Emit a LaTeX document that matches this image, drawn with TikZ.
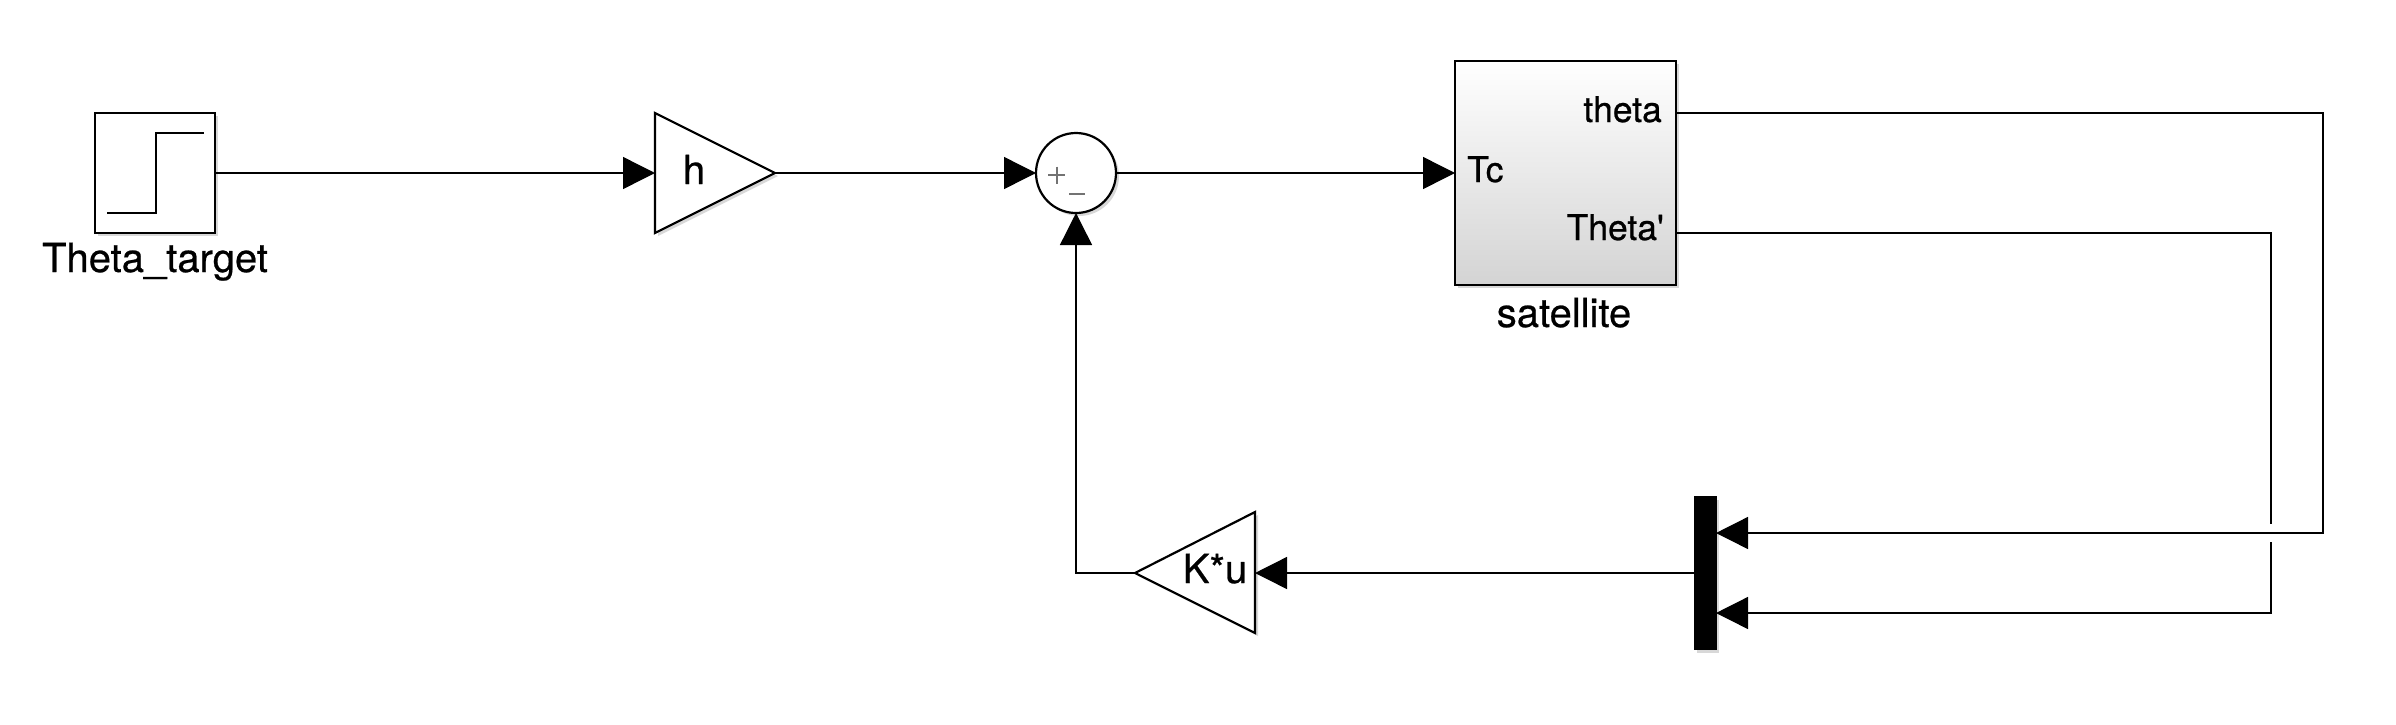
\documentclass[tikz,border=0pt]{standalone}
\usepackage{fontspec}
\setmainfont{TeX Gyre Heros}[FakeBold=0.6]
\usetikzlibrary{arrows.meta,shadows}
\begin{document}
\begin{tikzpicture}[x=1pt,y=-1pt,
  wire/.style={line width=1.4pt, draw=black},
  sig/.style={wire, -{Triangle[length=32pt,width=32pt]}},
  shd/.style={drop shadow={shadow xshift=3pt, shadow yshift=-3pt, opacity=0.3}},
  blk/.style={draw=black, line width=2.2pt, fill=white, inner sep=0pt, outer sep=0pt, shd},
  lbl/.style={font=\fontsize{40}{46}\selectfont, inner sep=0pt},
  port/.style={font=\fontsize{35.5}{41}\selectfont, inner sep=0pt},
  sgn/.style={draw=black!55, line width=2pt},
]
\useasboundingbox[fill=white] (0,0) rectangle (2396,724);

% Step source
\node[blk, minimum width=120pt, minimum height=120pt] (step) at (155,173) {};
\draw[line width=1.8pt] (107,213) -- (156,213) -- (156,133) -- (204,133);
\node[lbl, anchor=base] (steplbl) at (155,272) {Theta\_target};

% Gain h
\draw[blk] (655,113) -- (775,173) -- (655,233) -- cycle;
\coordinate (hin) at (655,173);
\coordinate (hout) at (775,173);
\node[lbl, anchor=base] (htxt) at (694,184) {h};

% Sum
\node[blk, circle, minimum size=80pt] (sum) at (1076,173) {};
\draw[sgn] (1048,175) -- (1065,175) (1056.5,166.5) -- (1056.5,183.5);
\draw[sgn] (1069,194) -- (1085,194);

% Satellite subsystem
\node[blk, minimum width=221pt, minimum height=224pt, top color=white, middle color=black!4, bottom color=black!17] (sat) at (1565.5,173) {};
\node[port, anchor=base west] (tc) at (1467,182) {Tc};
\node[port, anchor=base east] (thp) at (1662,122) {theta};
\node[port, anchor=base east] (thdp) at (1664,240) {Theta\textquotesingle};
\node[lbl, anchor=base] (satlbl) at (1564,327) {satellite};
\coordinate (satth) at (1676,113);
\coordinate (satdth) at (1676,233);

% Mux
\node[draw=black, fill=black, minimum width=22pt, minimum height=153pt, inner sep=0pt, outer sep=0pt, shd] (mux) at (1705,573) {};
\coordinate (muxa) at (1716,533);
\coordinate (muxb) at (1716,613);

% Gain K*u
\draw[blk] (1255,512) -- (1135,573) -- (1255,633) -- cycle;
\coordinate (kin) at (1255,573);
\coordinate (kout) at (1135,573);
\node[lbl, anchor=base] (ktxt) at (1215,583) {K*u};

% Connectors
\coordinate (b1) at (2323,533);
\coordinate (b2) at (2271,613);
\draw[sig] (step.east) -- (hin);
\draw[sig] (hout) -- (sum.west);
\draw[sig] (sum.east) -- (sat.west);
\draw[sig] (satdth) -| (b2) -- (muxb);
\draw[white, line width=4pt] (2271,524) -- (2271,542);
\draw[sig] (satth) -| (b1) -- (muxa);
\draw[sig] (mux.west) -- (kin);
\draw[sig] (kout) -| (sum.south);
\end{tikzpicture}
\end{document}
